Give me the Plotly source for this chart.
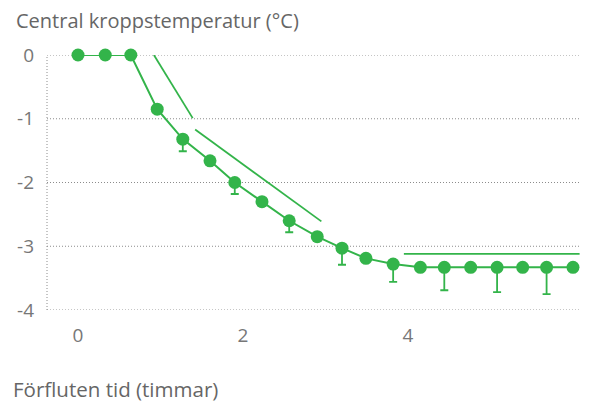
import plotly.graph_objects as go

# Elapsed time (hours) and mean core temperature change (°C)
time_h = [0.0, 0.33, 0.64, 0.96, 1.27, 1.6, 1.9, 2.23, 2.56, 2.9,
          3.2, 3.49, 3.82, 4.15, 4.44, 4.76, 5.08, 5.39, 5.68, 6.0]
temp_c = [0.0, 0.0, 0.0, -0.85, -1.32, -1.66, -2.0, -2.3, -2.6, -2.85,
          -3.03, -3.19, -3.28, -3.33, -3.33, -3.33, -3.33, -3.33, -3.33, -3.33]
# Lower error bars (only on every second sample)
err_minus = [None, None, None, None, 0.19, None, 0.18, None, 0.18, None,
             0.26, None, 0.28, None, 0.36, None, 0.39, None, 0.42, None]

# Guide lines: (x0, y0, x1, y1)
guide_segments = [
    (0.92, 0.0, 1.39, -0.99),
    (1.42, -1.17, 2.95, -2.61),
    (3.95, -3.12, 6.08, -3.12),
]

x_ticks = [0, 2, 4]
y_ticks = [0, -1, -2, -3, -4]
y_tick_text = ["0", "-1", "-2", "-3", "-4"]

GREEN = "#33b44a"
TEXT = "#666666"
TICK = "#777777"
GRID = "#8c8c8c"
GRID_DASH = "1px,2px"
FONT = "Open Sans"

# Plot area in pixels (for placing the free-standing titles)
PLOT_L, PLOT_T, PLOT_W, PLOT_H = 47, 55, 533, 255

fig = go.Figure()

for x0, y0, x1, y1 in guide_segments:
    fig.add_trace(go.Scatter(
        x=[x0, x1], y=[y0, y1], mode="lines",
        line=dict(color=GREEN, width=1.8),
        hoverinfo="skip", cliponaxis=False,
    ))

err_vals = [e if e is not None else 0 for e in err_minus]
fig.add_trace(go.Scatter(
    x=time_h, y=temp_c, mode="lines+markers",
    line=dict(color=GREEN, width=2),
    marker=dict(color=GREEN, size=13),
    error_y=dict(type="data", symmetric=False, array=[0] * len(err_vals),
                 arrayminus=err_vals, color=GREEN, thickness=1.8, width=4),
    cliponaxis=False,
))

# Dotted left boundary line
fig.add_shape(type="line", xref="paper", yref="y", x0=0, x1=0,
              y0=y_ticks[-1], y1=y_ticks[0],
              line=dict(color=GRID, width=1, dash=GRID_DASH), layer="below")
# Dotted horizontal gridlines
for yv in y_ticks:
    fig.add_shape(type="line", xref="paper", yref="y", x0=0, x1=1,
                  y0=yv, y1=yv,
                  line=dict(color=GRID, width=1, dash=GRID_DASH), layer="below")

fig.add_annotation(text="Central kroppstemperatur (°C)", xref="paper", yref="paper",
                   x=(14 - PLOT_L) / PLOT_W, y=1 + (PLOT_T - 20) / PLOT_H,
                   xanchor="left", yanchor="middle",
                   showarrow=False, font=dict(family=FONT, size=20, color=TEXT))
fig.add_annotation(text="Förfluten tid (timmar)", xref="paper", yref="paper",
                   x=(11 - PLOT_L) / PLOT_W, y=-(389 - PLOT_T - PLOT_H) / PLOT_H,
                   xanchor="left", yanchor="middle",
                   showarrow=False, font=dict(family=FONT, size=20.5, color=TEXT))

fig.update_layout(
    width=590, height=403,
    margin=dict(l=PLOT_L, r=590 - PLOT_L - PLOT_W, t=PLOT_T, b=403 - PLOT_T - PLOT_H),
    paper_bgcolor="white", plot_bgcolor="white",
    showlegend=False,
    font=dict(family=FONT, color=TEXT),
    xaxis=dict(range=[-0.376, 6.085], tickvals=x_ticks, showgrid=False,
               zeroline=False, showline=False, ticks="",
               ticklabelstandoff=12, tickfont=dict(size=19, color=TICK)),
    yaxis=dict(range=[-4, 0], tickvals=y_ticks, ticktext=y_tick_text,
               showgrid=False, zeroline=False, showline=False, ticks="",
               ticklabelstandoff=12, tickfont=dict(size=19, color=TICK)),
)

fig.write_html("out.html")
